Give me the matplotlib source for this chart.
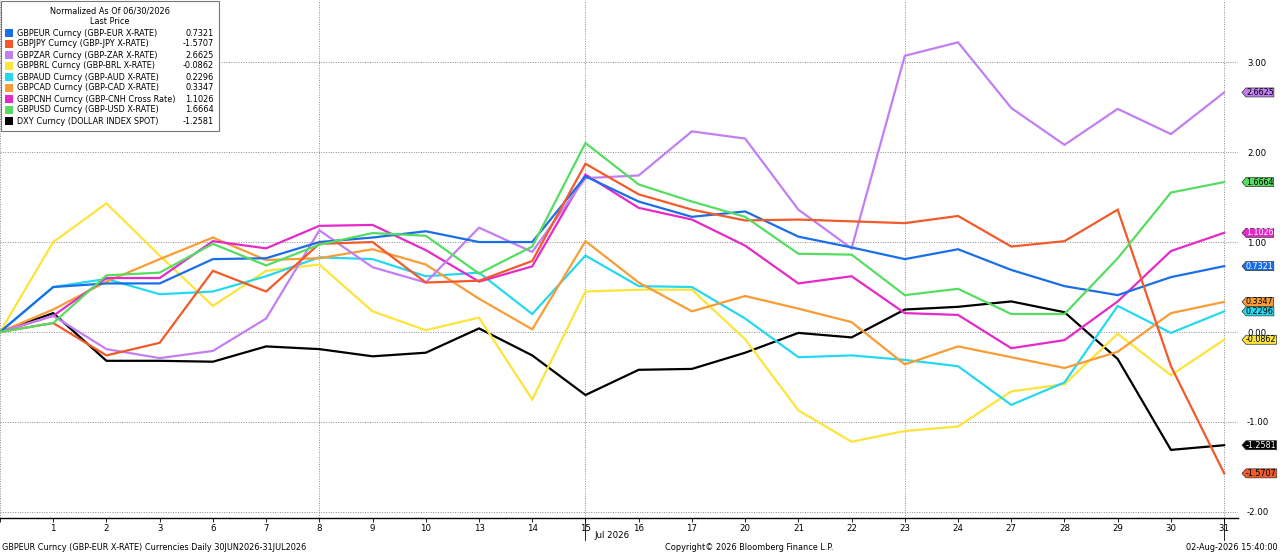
import matplotlib
matplotlib.use("Agg")
import matplotlib.pyplot as plt
from matplotlib.path import Path
import numpy as np

# trading days, 30 Jun 2026 then July
day_labels = ["", "1", "2", "3", "6", "7", "8", "9", "10", "13", "14", "15", "16",
              "17", "20", "21", "22", "23", "24", "27", "28", "29", "30", "31"]

names = [
    "GBPEUR Curncy (GBP-EUR X-RATE)",
    "GBPJPY Curncy (GBP-JPY X-RATE)",
    "GBPZAR Curncy (GBP-ZAR X-RATE)",
    "GBPBRL Curncy (GBP-BRL X-RATE)",
    "GBPAUD Curncy (GBP-AUD X-RATE)",
    "GBPCAD Curncy (GBP-CAD X-RATE)",
    "GBPCNH Curncy (GBP-CNH Cross Rate)",
    "GBPUSD Curncy (GBP-USD X-RATE)",
    "DXY Curncy (DOLLAR INDEX SPOT)",
]
last_values = ["0.7321", "-1.5707", "2.6625", "-0.0862", "0.2296",
               "0.3347", "1.1026", "1.6664", "-1.2581"]
colors = ["#1a6ee6", "#f25a2a", "#c27ff2", "#fde43a", "#25d8f0",
          "#f89c35", "#e52ac8", "#55dd62", "#000000"]
tag_text_colors = ["white", "black", "black", "black", "black",
                   "black", "white", "black", "white"]

gbpeur = [0, 0.50, 0.54, 0.54, 0.81, 0.82, 1.00, 1.05, 1.12, 1.00, 1.00, 1.73,
          1.45, 1.28, 1.34, 1.06, 0.94, 0.81, 0.92, 0.69, 0.51, 0.41, 0.61, 0.7321]
gbpjpy = [0, 0.10, -0.26, -0.12, 0.68, 0.45, 0.98, 1.00, 0.55, 0.57, 0.79, 1.87,
          1.53, 1.36, 1.24, 1.25, 1.23, 1.21, 1.29, 0.95, 1.01, 1.36, -0.38, -1.5707]
gbpzar = [0, 0.18, -0.19, -0.29, -0.21, 0.15, 1.13, 0.72, 0.55, 1.16, 0.89, 1.71,
          1.74, 2.23, 2.15, 1.36, 0.93, 3.07, 3.22, 2.49, 2.08, 2.48, 2.20, 2.6625]
gbpbrl = [0, 1.00, 1.43, 0.85, 0.29, 0.68, 0.75, 0.23, 0.02, 0.16, -0.75, 0.45,
          0.47, 0.47, -0.08, -0.87, -1.22, -1.10, -1.05, -0.66, -0.58, -0.02, -0.48, -0.0862]
gbpaud = [0, 0.50, 0.59, 0.42, 0.45, 0.62, 0.83, 0.81, 0.62, 0.66, 0.20, 0.85,
          0.51, 0.50, 0.15, -0.28, -0.26, -0.31, -0.38, -0.81, -0.56, 0.29, -0.01, 0.2296]
gbpcad = [0, 0.25, 0.56, 0.81, 1.05, 0.80, 0.82, 0.92, 0.75, 0.37, 0.03, 1.01,
          0.55, 0.23, 0.40, 0.26, 0.11, -0.36, -0.16, -0.28, -0.40, -0.22, 0.21, 0.3347]
gbpcnh = [0, 0.18, 0.60, 0.60, 1.01, 0.93, 1.18, 1.19, 0.91, 0.56, 0.73, 1.75,
          1.38, 1.25, 0.96, 0.54, 0.62, 0.21, 0.19, -0.18, -0.09, 0.34, 0.90, 1.1026]
gbpusd = [0, 0.10, 0.63, 0.66, 0.98, 0.74, 0.97, 1.10, 1.07, 0.65, 0.95, 2.10,
          1.64, 1.45, 1.28, 0.87, 0.86, 0.41, 0.48, 0.20, 0.20, 0.82, 1.55, 1.6664]
dxy = [0, 0.21, -0.32, -0.32, -0.33, -0.16, -0.19, -0.27, -0.23, 0.04, -0.26, -0.70,
       -0.42, -0.41, -0.23, -0.01, -0.06, 0.25, 0.28, 0.34, 0.22, -0.30, -1.31, -1.2581]

series = [gbpeur, gbpjpy, gbpzar, gbpbrl, gbpaud, gbpcad, gbpcnh, gbpusd, dxy]

plt.rcParams["font.family"] = "DejaVu Sans"
FS = 5.9

W, H = 1280, 554
fig = plt.figure(figsize=(W / 100, H / 100), dpi=100)
ax = fig.add_axes([0, 36 / H, 1238 / W, 518 / H])

x = np.arange(len(day_labels))
# black first, colours on top
for i in [8, 3, 4, 5, 6, 2, 0, 1, 7]:
    ax.plot(x, series[i], color=colors[i], lw=1.6, solid_joinstyle="miter", zorder=3)

ax.set_xlim(0, 23.26)
ax.set_ylim(-2.067, 3.69)

ax.set_xticks(x)
ax.set_xticklabels(day_labels, fontsize=6.2)
ax.tick_params(axis="x", direction="out", length=3, width=0.6, pad=1.5)
ax.yaxis.tick_right()
ax.set_yticks([3, 2, 1, 0, -1, -2])
ax.set_yticklabels(["3.00", "2.00", "1.00", "0.00", "-1.00", "-2.00"], fontsize=6.2)
ax.tick_params(axis="y", length=0, pad=6.5)

for s in ["top", "left", "right"]:
    ax.spines[s].set_visible(False)
ax.spines["bottom"].set_linewidth(1.0)

# grid
for yv in [3, 2, 1, 0, -1, -2]:
    ax.axhline(yv, color="#8c8c8c", lw=0.7, ls=(0, (1, 1.5)), zorder=1)
for xv in [0, 6, 11, 17, 23]:
    ax.axvline(xv, color="#8c8c8c", lw=0.7, ls=(0, (1, 1.5)), zorder=1)

# month separator ticks
for xv in [11, 23]:
    ax.plot([xv, xv], [0, -0.042], transform=ax.get_xaxis_transform(),
            color="black", lw=0.6, clip_on=False)
ax.text(11.5, -0.033, "Jul 2026", transform=ax.get_xaxis_transform(),
        fontsize=6.2, ha="center", va="center")


def tag_shape(x0, y0, width, height, mutation_size):
    # box with a pointed left end sticking out past the text pad
    p = height / 2.0
    tip = p * 0.9
    verts = [(x0 - tip, y0 + p), (x0, y0), (x0 + width, y0),
             (x0 + width, y0 + height), (x0, y0 + height), (x0 - tip, y0 + p)]
    return Path(verts, closed=True)


tr = ax.get_yaxis_transform()
for i in range(len(series)):
    ax.text(1246 / 1238, series[i][-1], last_values[i], transform=tr, fontsize=5.8,
            color=tag_text_colors[i], ha="left", va="center", zorder=5,
            bbox=dict(boxstyle=tag_shape, fc=colors[i], ec="#333333", lw=0.5,
                      pad=0.22),
            clip_on=False)


# legend box, pixel helpers
def fx(px):
    return px / W


def fy(py):
    return 1 - py / H


fig.patches.append(plt.Rectangle((fx(1), fy(131)), fx(218), 130 / H, transform=fig.transFigure,
                                 fc="white", ec="#777777", lw=0.8, zorder=10))
fig.text(fx(110), fy(11), "Normalized As Of 06/30/2026", fontsize=FS, ha="center",
         va="center", zorder=11)
fig.text(fx(110), fy(22), "Last Price", fontsize=FS, ha="center", va="center", zorder=11)
for i in range(len(names)):
    yy = 33 + i * 11.0
    fig.patches.append(plt.Rectangle((fx(5), fy(yy + 4)), fx(8), 8 / H,
                                     transform=fig.transFigure, fc=colors[i], ec="none",
                                     zorder=11))
    fig.text(fx(17), fy(yy), names[i], fontsize=FS, ha="left", va="center", zorder=11)
    fig.text(fx(214), fy(yy), last_values[i], fontsize=FS, ha="right", va="center",
             zorder=11)

# footer
fig.text(fx(2), fy(548), "GBPEUR Curncy (GBP-EUR X-RATE) Currencies Daily 30JUN2026-31JUL2026",
         fontsize=FS, ha="left", va="center")
fig.text(fx(665), fy(548), "Copyright\u00a9 2026 Bloomberg Finance L.P.", fontsize=FS,
         ha="left", va="center")
fig.text(fx(1278), fy(548), "02-Aug-2026 15:40:00", fontsize=FS, ha="right", va="center")

fig.savefig("out.png", dpi=100)
